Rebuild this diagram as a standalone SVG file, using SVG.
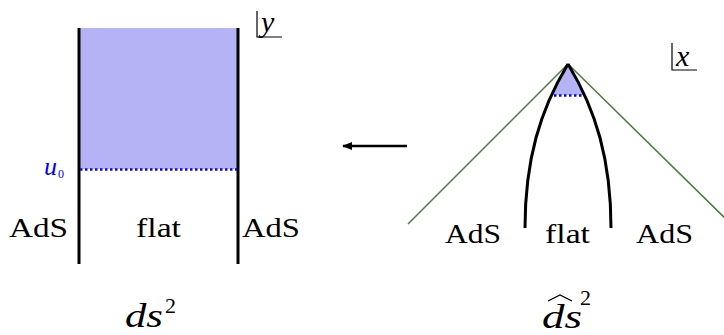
<svg xmlns="http://www.w3.org/2000/svg" width="724" height="335" viewBox="0 0 724 335">
<defs>
<style>
.t{font-family:"Liberation Serif","DejaVu Serif",serif;fill:#000}
.it{font-style:italic}
.wall{stroke:#000;stroke-width:3;fill:none}
.dot{stroke:#0000ff;stroke-width:2.5;stroke-dasharray:2.5 2.5;fill:none}
.fill{fill:#b3b3f5}
.green{stroke:#4a7a3c;stroke-width:1.5;fill:none}
</style>
<marker id="ah" markerWidth="10" markerHeight="8" refX="9" refY="4" orient="auto" markerUnits="userSpaceOnUse">
<path d="M0,0 L10,4 L0,8 Z" fill="#000"/>
</marker>
</defs>
<rect width="724" height="335" fill="#fff"/>
<g id="left-panel">
<rect class="fill" x="79" y="28" width="159" height="141"/>
<line class="wall" x1="79" y1="28" x2="79" y2="264"/>
<line class="wall" x1="238" y1="28" x2="238" y2="264"/>
<line class="dot" x1="80" y1="169.5" x2="237" y2="169.5"/>
<text class="t it" x="44" y="175" font-size="26" style="fill:#0000ff">u</text>
<text class="t" x="58" y="178" font-size="12" style="fill:#0000ff">0</text>
<text class="t" x="9" y="237" font-size="28" textLength="59" lengthAdjust="spacingAndGlyphs">AdS</text>
<text class="t" x="136" y="237" font-size="28" textLength="45" lengthAdjust="spacingAndGlyphs">flat</text>
<text class="t" x="242" y="237" font-size="28" textLength="58" lengthAdjust="spacingAndGlyphs">AdS</text>
<path d="M257,11 V37 H282" stroke="#000" stroke-width="1.2" fill="none"/>
<text class="t it" x="261" y="32" font-size="30">y</text>
<text class="t it" x="125" y="327" font-size="34" textLength="38" lengthAdjust="spacingAndGlyphs">ds</text>
<text class="t" x="165" y="313" font-size="22">2</text>
</g>
<g id="connectors">
<line x1="407" y1="146" x2="343" y2="146" stroke="#000" stroke-width="2.5" marker-end="url(#ah)"/>
</g>
<g id="right-panel">
<line class="green" x1="568" y1="64" x2="408" y2="224"/>
<line class="green" x1="568" y1="64" x2="728" y2="221"/>
<path class="fill" d="M568,65 C563,74 557,84 553,95 L583,95 C579,84 573,74 568,65 Z"/>
<path class="wall" d="M525,228 C525,160 540,110 568,64"/>
<path class="wall" d="M611,228 C611,160 596,110 568,64"/>
<line class="dot" x1="554" y1="95.5" x2="583" y2="95.5"/>
<text class="t" x="445" y="243" font-size="28" textLength="56" lengthAdjust="spacingAndGlyphs">AdS</text>
<text class="t" x="545" y="243" font-size="28" textLength="45" lengthAdjust="spacingAndGlyphs">flat</text>
<text class="t" x="636" y="243" font-size="28" textLength="57" lengthAdjust="spacingAndGlyphs">AdS</text>
<path d="M672,43 V70 H697" stroke="#000" stroke-width="1.2" fill="none"/>
<text class="t it" x="676" y="66" font-size="30">x</text>
<text class="t it" x="542" y="328" font-size="34" textLength="40" lengthAdjust="spacingAndGlyphs">ds</text>
<path d="M548,301 L560,295 L572,301" stroke="#000" stroke-width="1.3" fill="none"/>
<text class="t" x="580" y="305" font-size="22">2</text>
</g>
</svg>
